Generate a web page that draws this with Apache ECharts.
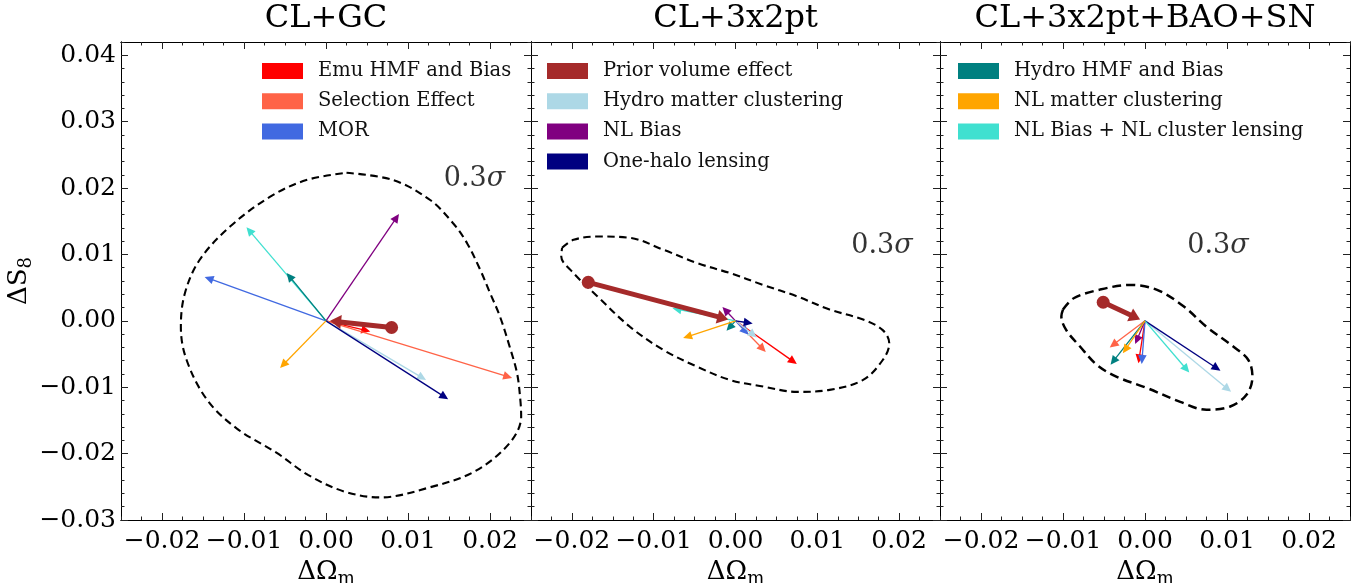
<!DOCTYPE html>
<html>
<head>
<meta charset="utf-8">
<script src="https://cdn.jsdelivr.net/npm/echarts@6/dist/echarts.min.js"></script>
<style>
html,body{margin:0;padding:0;background:#fff;}
#chart{width:1354px;height:583px;}
</style>
</head>
<body>
<div id="chart"></div>
<script>
// ---------- data ----------
const panelTitles = ['CL+GC', 'CL+3x2pt', 'CL+3x2pt+BAO+SN'];
const xTickValues = [-0.02, -0.01, 0.0, 0.01, 0.02];
const yTickValues = [-0.03, -0.02, -0.01, 0.0, 0.01, 0.02, 0.03, 0.04];
const xRange = [-0.025, 0.025];
const yRange = [-0.03, 0.042];

const effectNames = ['Emu HMF and Bias', 'Selection Effect', 'MOR', 'Prior volume effect',
  'Hydro matter clustering', 'NL Bias', 'One-halo lensing', 'Hydro HMF and Bias',
  'NL matter clustering', 'NL Bias + NL cluster lensing'];
const effectColors = ['#ff0000', '#ff6347', '#4169e1', '#a52a2a', '#add8e6', '#800080',
  '#000080', '#008080', '#ffa500', '#40e0d0'];

const legendGC = ['Emu HMF and Bias', 'Selection Effect', 'MOR'];
const legend3x2 = ['Prior volume effect', 'Hydro matter clustering', 'NL Bias', 'One-halo lensing'];
const legendAll = ['Hydro HMF and Bias', 'NL matter clustering', 'NL Bias + NL cluster lensing'];

// arrows: [x start, y start, x end, y end], same order as effectNames
const arrowsGC = [
  [0, 0, 0.0054, -0.0016],
  [0, 0, 0.0227, -0.0086],
  [0, 0, -0.0148, 0.0066],
  [0.0080, -0.0010, 0.0005, 0.0000],
  [0, 0, 0.0122, -0.0089],
  [0, 0, 0.0089, 0.0161],
  [0, 0, 0.0149, -0.0118],
  [0, 0, -0.0048, 0.0072],
  [0, 0, -0.0056, -0.0071],
  [0, 0, -0.0097, 0.0141]
];
const arrows3x2 = [
  [0, 0, 0.0075, -0.0065],
  [0, 0, 0.0037, -0.0047],
  [0, 0, 0.0016, -0.0021],
  [-0.0180, 0.0058, -0.0009, 0.0002],
  [0, 0, 0.0026, -0.0025],
  [0, 0, -0.0016, 0.0021],
  [0, 0, 0.0021, -0.0004],
  [0, 0, -0.0011, -0.0015],
  [0, 0, -0.0064, -0.0026],
  [0, 0, -0.0077, 0.0019]
];
const arrowsAll = [
  [0, 0, -0.0008, -0.0064],
  [0, 0, -0.0043, -0.0040],
  [0, 0, -0.0004, -0.0065],
  [-0.0051, 0.0028, -0.0006, 0.0002],
  [0, 0, 0.0105, -0.0107],
  [0, 0, -0.0012, -0.0035],
  [0, 0, 0.0092, -0.0075],
  [0, 0, -0.0042, -0.0066],
  [0, 0, -0.0027, -0.0049],
  [0, 0, 0.0054, -0.0078]
];

// 0.3 sigma contours
const contourGC = [
  [0.0025, 0.0223], [0.0082, 0.0212], [0.0127, 0.0182], [0.0155, 0.0147], [0.0172, 0.0117],
  [0.0188, 0.0077], [0.0200, 0.0042], [0.0212, 0.0007], [0.0224, -0.0039], [0.0233, -0.0079],
  [0.0237, -0.0119], [0.0238, -0.0144], [0.0224, -0.0184], [0.0181, -0.0227], [0.0126, -0.0251],
  [0.0066, -0.0266], [0.0022, -0.0257], [-0.0022, -0.0232], [-0.0060, -0.0199], [-0.0109, -0.0162],
  [-0.0145, -0.0119], [-0.0170, -0.0059], [-0.0177, -0.0009], [-0.0172, 0.0042], [-0.0154, 0.0092],
  [-0.0117, 0.0142], [-0.0068, 0.0187], [-0.0024, 0.0212], [0.0025, 0.0223]
];
const contour3x2 = [
  [-0.0212, 0.0110], [-0.0198, 0.0122], [-0.0169, 0.0127], [-0.0129, 0.0125], [-0.0088, 0.0107],
  [-0.0047, 0.0087], [-0.0007, 0.0072], [0.0034, 0.0054], [0.0075, 0.0037], [0.0115, 0.0017],
  [0.0156, 0.0002], [0.0180, -0.0014], [0.0188, -0.0034], [0.0180, -0.0059], [0.0156, -0.0089],
  [0.0115, -0.0104], [0.0075, -0.0107], [0.0034, -0.0099], [-0.0007, -0.0089], [-0.0047, -0.0069],
  [-0.0088, -0.0044], [-0.0129, -0.0009], [-0.0169, 0.0037], [-0.0198, 0.0072], [-0.0213, 0.0097],
  [-0.0212, 0.0110]
];
const contourAll = [
  [-0.0100, 0.0017], [-0.0087, 0.0034], [-0.0055, 0.0047], [-0.0018, 0.0054], [0.0014, 0.0047],
  [0.0047, 0.0022], [0.0075, -0.0009], [0.0108, -0.0039], [0.0126, -0.0059], [0.0131, -0.0084],
  [0.0124, -0.0111], [0.0104, -0.0129], [0.0075, -0.0134], [0.0043, -0.0122], [0.0002, -0.0101],
  [-0.0035, -0.0084], [-0.0059, -0.0066], [-0.0079, -0.0039], [-0.0096, -0.0014], [-0.0102, 0.0007],
  [-0.0100, 0.0017]
];
const sigmaLabelPos = [[0.0181, 0.0213], [0.0179, 0.0112], [0.0089, 0.0113]];

// ---------- build ----------
const FONT = 'DejaVu Serif';
const panelArrows = [arrowsGC, arrows3x2, arrowsAll];
const panelContours = [contourGC, contour3x2, contourAll];
const panelLegends = [legendGC, legend3x2, legendAll];
const gridLeft = [121, 531, 940];
const gridWidth = [410, 409, 410];
const legendLeft = [257, 542, 953];

const fmt = v => (v < 0 ? '\u2212' : '') + Math.abs(v).toFixed(2);

const grids = [], xAxes = [], yAxes = [], series = [], titles = [], legends = [];

function tickAxis(dim, g, position, major, withLabels) {
  const range = dim === 'x' ? xRange : yRange;
  const customs = dim === 'x' ? xTickValues : yTickValues;
  const ax = {
    gridIndex: g, type: 'value', min: range[0], max: range[1], position: position,
    splitLine: {show: false},
    axisLine: {show: true, onZero: false, lineStyle: {color: '#000', width: 1}},
    axisTick: {show: true, inside: true, length: major ? 7 : 3.5, lineStyle: {color: '#222', width: 1}},
    axisLabel: {show: false}
  };
  if (major) {
    ax.axisTick.customValues = customs;
    ax.axisLabel = {show: withLabels, customValues: customs, formatter: fmt,
      margin: dim === 'x' ? 9 : 5, fontFamily: FONT, fontSize: 25, color: '#000'};
  } else {
    ax.interval = dim === 'x' ? 0.0025 : 0.002;
  }
  return ax;
}

const nameStyle = {fontFamily: FONT, fontSize: 26, color: '#000',
  rich: {d: {fontFamily: FONT, fontSize: 26, color: '#000'},
         m: {fontFamily: FONT, fontSize: 18, color: '#000', padding: [14, 0, 0, 0]}}};

for (let g = 0; g < 3; g++) {
  grids.push({left: gridLeft[g], top: 42, width: gridWidth[g], height: 478, show: false,
    containLabel: false, outerBoundsMode: 'none'});
  titles.push({text: panelTitles[g], left: gridLeft[g] + gridWidth[g] / 2, top: 3, textAlign: 'center',
    padding: 0, textStyle: {fontFamily: FONT, fontSize: 32, fontWeight: 'normal', color: '#000'}});
  legends.push({
    data: panelLegends[g], left: legendLeft[g], top: 56, orient: 'vertical',
    icon: 'rect', itemWidth: 41, itemHeight: 16, itemGap: 10.2, selectedMode: false,
    textStyle: {fontFamily: FONT, fontSize: 19.5, color: '#111', padding: [0, 0, 0, 10]}
  });
  const xMain = tickAxis('x', g, 'bottom', true, true);
  xMain.name = '{d|\u0394\u03a9}{m|m}';
  xMain.nameLocation = 'middle';
  xMain.nameGap = 27;
  xMain.nameTextStyle = nameStyle;
  xAxes.push(xMain, tickAxis('x', g, 'bottom', false), tickAxis('x', g, 'top', true, false), tickAxis('x', g, 'top', false));
  const yMain = tickAxis('y', g, 'left', true, g === 0);
  if (g === 0) {
    yMain.name = '{d|\u0394S}{m|8}';
    yMain.nameLocation = 'middle';
    yMain.nameGap = 80;
    yMain.nameTextStyle = nameStyle;
  }
  yAxes.push(yMain, tickAxis('y', g, 'left', false), tickAxis('y', g, 'right', true, false), tickAxis('y', g, 'right', false));

  const xi = g * 4, yi = g * 4;
  // contour
  series.push({
    type: 'line', name: 'contour' + g, xAxisIndex: xi, yAxisIndex: yi,
    data: panelContours[g], smooth: 0.35, symbol: 'none', silent: true,
    lineStyle: {color: '#000', width: g === 2 ? 2.5 : 2.1, type: g === 2 ? [9, 5] : [7.5, 4.5]}, z: 2
  });
  // arrows (prior volume effect last so it is on top)
  const order = [0, 1, 2, 4, 5, 6, 9, 7, 8, 3];
  order.forEach(k => {
    const thick = effectNames[k] === 'Prior volume effect';
    series.push({
      type: 'custom', name: effectNames[k], xAxisIndex: xi, yAxisIndex: yi,
      itemStyle: {color: effectColors[k]}, silent: true, z: thick ? 5 : 3,
      encode: {x: [0, 2], y: [1, 3]},
      data: [panelArrows[g][k]],
      renderItem: function (params, api) {
        const a = api.coord([api.value(0), api.value(1)]);
        const b = api.coord([api.value(2), api.value(3)]);
        const color = api.visual('color');
        const dx = b[0] - a[0], dy = b[1] - a[1];
        const len = Math.hypot(dx, dy) || 1;
        const ux = dx / len, uy = dy / len;
        const hl = thick ? 11 : 9, hw = thick ? 7 : 4.3, lw = thick ? 5 : 1.3;
        const bx = b[0] - ux * hl, by = b[1] - uy * hl;
        const children = [
          {type: 'line', shape: {x1: a[0], y1: a[1], x2: bx + ux * 1, y2: by + uy * 1},
           style: {stroke: color, lineWidth: lw}},
          {type: 'polygon', shape: {points: [[b[0], b[1]], [bx - uy * hw, by + ux * hw], [bx + uy * hw, by - ux * hw]]},
           style: {fill: color}}
        ];
        if (thick) children.push({type: 'circle', shape: {cx: a[0], cy: a[1], r: 6.5}, style: {fill: color}});
        return {type: 'group', children: children};
      }
    });
  });
  // 0.3 sigma label
  series.push({
    type: 'scatter', name: 'sigma' + g, xAxisIndex: xi, yAxisIndex: yi, silent: true,
    symbolSize: 0, data: [sigmaLabelPos[g]],
    label: {show: true, position: 'inside', formatter: '{n|0.3}{s|\u03c3}',
      rich: {n: {fontFamily: FONT, fontSize: 27, color: '#000'},
             s: {fontFamily: FONT, fontSize: 27, fontStyle: 'italic', color: '#000'}}}
  });
}

const chart = echarts.init(document.getElementById('chart'));
chart.setOption({
  animation: false,
  backgroundColor: '#fff',
  title: titles,
  legend: legends,
  grid: grids,
  xAxis: xAxes,
  yAxis: yAxes,
  series: series
});
</script>
</body>
</html>
